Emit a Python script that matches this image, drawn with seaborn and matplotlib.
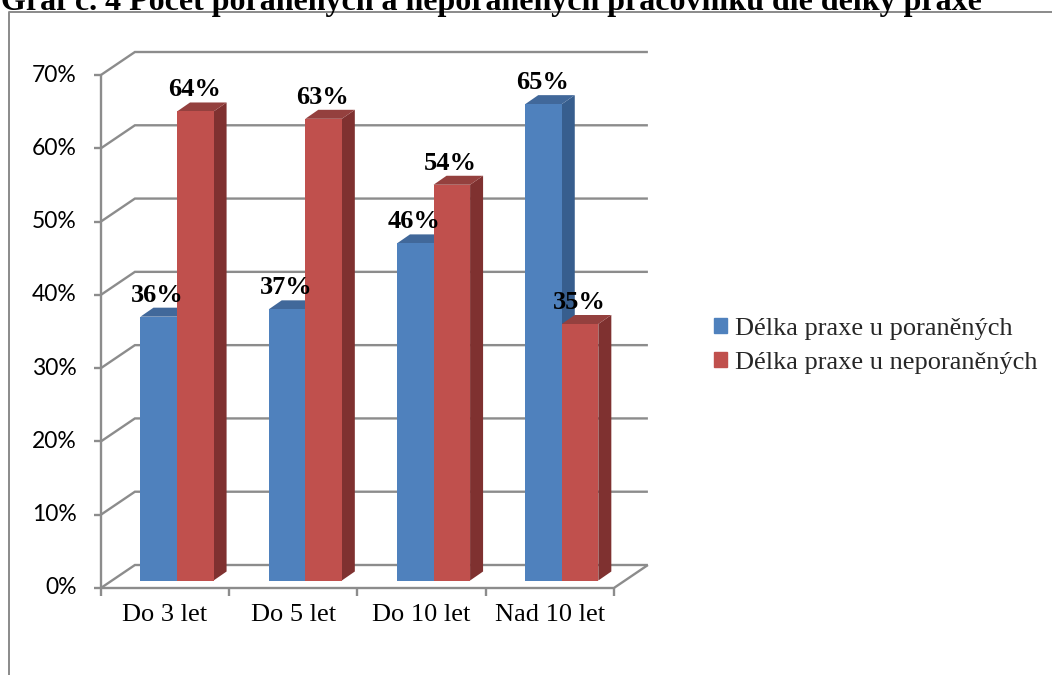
import matplotlib
matplotlib.use("Agg")
import matplotlib.pyplot as plt
import seaborn as sns
import pandas as pd
from matplotlib.lines import Line2D
from matplotlib.patches import Polygon, Patch
from matplotlib.transforms import IdentityTransform

# --- data -------------------------------------------------------------
kategorie = ["Do 3 let", "Do 5 let", "Do 10 let", "Nad 10 let"]
poranenych = [36, 37, 46, 65]
neporanenych = [64, 63, 54, 35]
serie = ["Délka praxe u poraněných", "Délka praxe u neporaněných"]
osa_y = [0, 10, 20, 30, 40, 50, 60, 70]
nadpis = "Graf č. 4 Počet poraněných a neporaněných pracovníků dle délky praxe"

df = pd.DataFrame({
    "kategorie": kategorie * 2,
    "hodnota": poranenych + neporanenych,
    "serie": [serie[0]] * len(kategorie) + [serie[1]] * len(kategorie),
})

# --- styling ----------------------------------------------------------
sns.set_theme(style="white")
plt.rcParams["font.family"] = ["Liberation Serif", "DejaVu Serif"]

W, H, DPI = 1052, 675, 100
fig = plt.figure(figsize=(W / DPI, H / DPI), dpi=DPI)
fig.patch.set_facecolor("white")

front_cols = ["#4F81BD", "#C0504D"]
top_cols = ["#41689A", "#94403E"]
side_cols = ["#375E8E", "#7F3130"]
grid_col = "#8C8C8C"

# axes placed on the plane in which the bar fronts sit
ax = fig.add_axes([112.9 / W, 94.5 / H, 513 / W, 513 / H])
sns.barplot(data=df, x="kategorie", y="hodnota", hue="serie",
            palette=front_cols, saturation=1, width=0.57, gap=0,
            order=kategorie, hue_order=serie, legend=False, ax=ax)
ax.set_xlim(-0.5, len(kategorie) - 0.5)
ax.set_ylim(osa_y[0], osa_y[-1])
ax.set_axis_off()

# pixel offsets of the front wall and the back wall from the bar plane
FRONT = (-12.0, -7.5)
BACK = (22.0, 15.5)
BAR_DEPTH = (13.0, 9.0)

def px(x, y, off=(0.0, 0.0)):
    p = ax.transData.transform((x, y))
    return (p[0] + off[0], p[1] + off[1])

def line(points, z=1, lw=1.7, color=grid_col):
    xs = [p[0] for p in points]
    ys = [p[1] for p in points]
    ax.add_line(Line2D(xs, ys, transform=IdentityTransform(), color=color,
                       lw=lw, clip_on=False, zorder=z,
                       solid_capstyle="butt", solid_joinstyle="miter"))

x0, x1 = -0.5, len(kategorie) - 0.5

# back wall grid with the diagonal side-wall lines
for v in osa_y:
    line([px(x0, v, FRONT), px(x0, v, BACK), px(x1, v, BACK)])

# floor
line([px(x0, 0, FRONT), px(x1, 0, FRONT), px(x1, 0, BACK)])
# vertical value axis on the front wall
line([px(x0, osa_y[0], FRONT), px(x0, osa_y[-1], FRONT)])

# value ticks and labels
for v in osa_y:
    xa, ya = px(x0, v, FRONT)
    line([(xa - 7, ya), (xa, ya)])
    ax.text(xa - 24, ya, f"{v}%", transform=IdentityTransform(),
            ha="right", va="center", fontsize=16.5, family=["Lato", "DejaVu Sans"],
            color="black", clip_on=False)

# category ticks and labels
for i in range(len(kategorie) + 1):
    xa, ya = px(x0 + i, 0, FRONT)
    line([(xa, ya), (xa, ya - 8)])
for i, k in enumerate(kategorie):
    xa, ya = px(i, 0, FRONT)
    ax.text(xa, ya - 27, k, transform=IdentityTransform(), ha="center",
            va="center", fontsize=19, color="black", clip_on=False)

# 3D faces (top and side) of each bar, drawn left to right
bars = sorted(ax.patches, key=lambda p: p.get_x())
fronts = {tuple(c): j for j, c in enumerate(
    [matplotlib.colors.to_rgba(c) for c in front_cols])}
for n, b in enumerate(bars):
    j = fronts.get(tuple(b.get_facecolor()), 0)
    bx, bw, bh = b.get_x(), b.get_width(), b.get_height()
    b.set_zorder(5)
    b.set_edgecolor("none")
    tl, tr = px(bx, bh), px(bx + bw, bh)
    br = px(bx + bw, 0)
    d = BAR_DEPTH
    top = [tl, tr, (tr[0] + d[0], tr[1] + d[1]), (tl[0] + d[0], tl[1] + d[1])]
    side = [br, tr, (tr[0] + d[0], tr[1] + d[1]), (br[0] + d[0], br[1] + d[1])]
    ax.add_patch(Polygon(side, closed=True, transform=IdentityTransform(),
                         facecolor=side_cols[j], edgecolor="none",
                         zorder=3 + n * 0.01, clip_on=False))
    ax.add_patch(Polygon(top, closed=True, transform=IdentityTransform(),
                         facecolor=top_cols[j], edgecolor="none",
                         zorder=3 + n * 0.01 + 0.005, clip_on=False))
    cx = (tl[0] + tr[0]) / 2
    ax.text(cx - 1, tl[1] + 15, f"{bh:.0f}%", transform=IdentityTransform(),
            ha="center", va="baseline", fontsize=19, fontweight="bold",
            color="black", zorder=10, clip_on=False)

# legend
fig.legend(handles=[Patch(color=c) for c in front_cols], labels=serie,
           loc="center left", bbox_to_anchor=(714 / W, (H - 346) / H),
           frameon=False, prop={"family": "Liberation Serif", "size": 19},
           handlelength=0.5, handleheight=0.5, handletextpad=0.3,
           labelspacing=0.45, borderpad=0, borderaxespad=0)

# surrounding frame and heading
fig.add_artist(Line2D([9 / W, 9 / W, 1.0], [0.0, (H - 12) / H, (H - 12) / H],
                      transform=fig.transFigure, color="#8A8A8A", lw=1.4))
fig.text(1 / W, (H - 10) / H, nadpis, ha="left", va="baseline",
         fontsize=23, fontweight="bold", color="black")

fig.savefig("out.png", dpi=DPI)
